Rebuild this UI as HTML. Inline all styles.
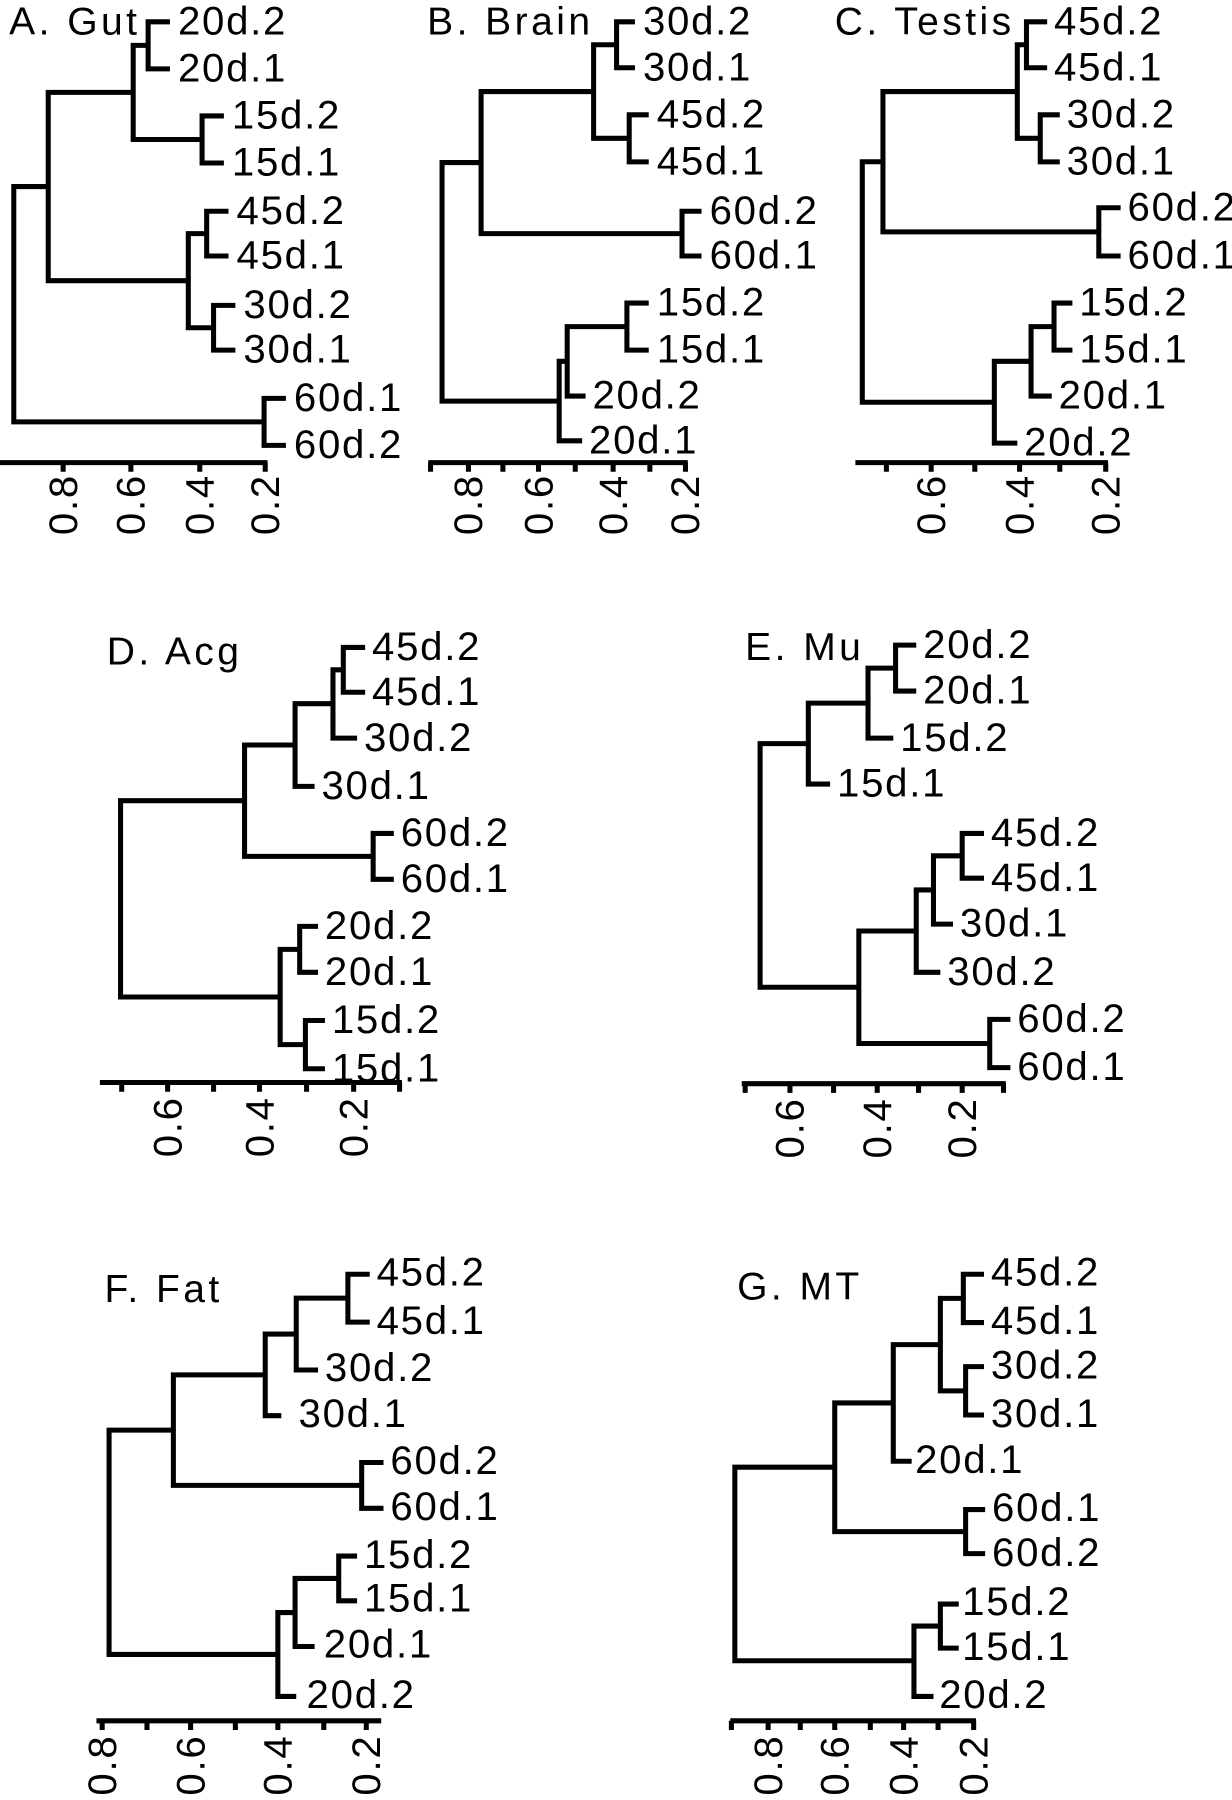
<!DOCTYPE html>
<html><head><meta charset="utf-8"><style>
html,body{margin:0;padding:0;background:#fff;}
svg{display:block;}
text{font-family:"Liberation Sans",sans-serif;font-size:35px;letter-spacing:1.5px;fill:#000;}
.t{letter-spacing:3px;font-size:34px;}
path{fill:none;stroke:#000;stroke-width:4.4;stroke-linecap:butt;stroke-linejoin:miter;}
</style></head><body>
<svg width="1232" height="1800" viewBox="0 0 1073 1568" preserveAspectRatio="none" xmlns="http://www.w3.org/2000/svg">
<!-- A -->
<text class="t" x="8" y="30">A. Gut</text>
<path d="M148 19 H129 V60 H148 M195 101 H176 V142 H195 M129 39.5 H116 V121.5 H176 M199 184 H180 V223 H199 M205 266 H186 V305 H205 M180 203.5 H164 V285.5 H186 M116 80.5 H42 V244.5 H164 M249 347 H230 V388 H249 M42 162.5 H12 V367.5 H230"/>
<text x="155" y="30">20d.2</text><text x="155" y="71">20d.1</text><text x="202" y="112">15d.2</text><text x="202" y="153">15d.1</text>
<text x="206" y="195">45d.2</text><text x="206" y="234">45d.1</text><text x="212" y="277">30d.2</text><text x="212" y="316">30d.1</text>
<text x="256" y="358">60d.1</text><text x="256" y="399">60d.2</text>
<path d="M0 403 H233 M55 403 V411 M114 403 V411 M174 403 V411 M231 403 V411"/>
<text text-anchor="end" transform="translate(67,413) rotate(-90)">0.8</text>
<text text-anchor="end" transform="translate(126,413) rotate(-90)">0.6</text>
<text text-anchor="end" transform="translate(186,413) rotate(-90)">0.4</text>
<text text-anchor="end" transform="translate(243,413) rotate(-90)">0.2</text>
<!-- B -->
<text class="t" x="372" y="30">B. Brain</text>
<path d="M553 19 H537 V59 H553 M565 100 H548 V141 H565 M537 39 H517 V120.5 H548 M611 184 H594 V223 H611 M517 79.75 H419 V203.5 H594 M565 264 H546 V305 H565 M546 284.5 H494 V345 H510 M494 314.75 H487 V384 H507 M419 141.6 H385 V349.4 H487"/>
<text x="560" y="30">30d.2</text><text x="560" y="70">30d.1</text><text x="572" y="111">45d.2</text><text x="572" y="152">45d.1</text>
<text x="618" y="195">60d.2</text><text x="618" y="234">60d.1</text><text x="572" y="275">15d.2</text><text x="572" y="316">15d.1</text>
<text x="516" y="356">20d.2</text><text x="513" y="395">20d.1</text>
<path d="M373 403 H599 M375 403 V411 M408 403 V411 M438 403 V411 M469 403 V411 M501 403 V411 M534 403 V411 M566 403 V411 M597 403 V411"/>
<text text-anchor="end" transform="translate(420,413) rotate(-90)">0.8</text>
<text text-anchor="end" transform="translate(481,413) rotate(-90)">0.6</text>
<text text-anchor="end" transform="translate(546,413) rotate(-90)">0.4</text>
<text text-anchor="end" transform="translate(609,413) rotate(-90)">0.2</text>
<!-- C -->
<text class="t" x="727" y="30">C. Testis</text>
<path d="M912 19 H894 V59 H912 M923 100 H906 V141 H923 M894 39 H886 V120.5 H906 M976 181 H957 V223 H976 M886 79.75 H769 V202 H957 M934 264 H918 V305 H934 M918 284.5 H898 V345 H916 M898 314.75 H866 V386 H886 M769 140.9 H751 V350.4 H866"/>
<text x="918" y="30">45d.2</text><text x="918" y="70">45d.1</text><text x="929" y="111">30d.2</text><text x="929" y="152">30d.1</text>
<text x="982" y="192">60d.2</text><text x="982" y="234">60d.1</text><text x="940" y="275">15d.2</text><text x="940" y="316">15d.1</text>
<text x="922" y="356">20d.1</text><text x="892" y="397">20d.2</text>
<path d="M745 403 H965 M772 403 V411 M811 403 V411 M849 403 V411 M888 403 V411 M923 403 V411 M963 403 V411"/>
<text text-anchor="end" transform="translate(823,413) rotate(-90)">0.6</text>
<text text-anchor="end" transform="translate(900,413) rotate(-90)">0.4</text>
<text text-anchor="end" transform="translate(975,413) rotate(-90)">0.2</text>
<!-- D -->
<text class="t" x="93" y="579">D. Acg</text>
<path d="M318 564 H299 V603 H318 M299 583.5 H290 V643 H311 M290 613 H257 V685 H274 M343 726 H325 V766 H343 M257 649 H213 V746 H325 M277 807 H261 V847 H277 M283 889 H266 V931 H283 M261 827 H244 V910 H266 M213 697.5 H105 V868.5 H244"/>
<text x="324" y="575">45d.2</text><text x="324" y="614">45d.1</text><text x="317" y="654">30d.2</text><text x="280" y="696">30d.1</text>
<text x="349" y="737">60d.2</text><text x="349" y="777">60d.1</text><text x="283" y="818">20d.2</text><text x="283" y="858">20d.1</text>
<text x="289" y="900">15d.2</text><text x="289" y="942">15d.1</text>
<path d="M87 943 H350 M106 943 V951 M146 943 V951 M186 943 V951 M226 943 V951 M267 943 V951 M308 943 V951 M348 943 V951"/>
<text text-anchor="end" transform="translate(158,955) rotate(-90)">0.6</text>
<text text-anchor="end" transform="translate(238,955) rotate(-90)">0.4</text>
<text text-anchor="end" transform="translate(320,955) rotate(-90)">0.2</text>
<!-- E -->
<text class="t" x="649" y="575">E. Mu</text>
<path d="M798 562 H780 V602 H798 M780 582 H756 V643 H778 M756 612.5 H704 V683 H723 M857 726 H838 V765 H857 M838 745.5 H813 V805 H830 M813 775.25 H798 V847 H819 M880 888 H862 V930 H880 M798 811 H748 V909 H862 M704 647.75 H662 V860 H748"/>
<text x="804" y="573">20d.2</text><text x="804" y="613">20d.1</text><text x="784" y="654">15d.2</text><text x="729" y="694">15d.1</text>
<text x="863" y="737">45d.2</text><text x="863" y="776">45d.1</text><text x="836" y="816">30d.1</text><text x="825" y="858">30d.2</text>
<text x="886" y="899">60d.2</text><text x="886" y="941">60d.1</text>
<path d="M646 944 H876 M649 944 V952 M688 944 V952 M726 944 V952 M764 944 V952 M800 944 V952 M838 944 V952 M874 944 V952"/>
<text text-anchor="end" transform="translate(700,956) rotate(-90)">0.6</text>
<text text-anchor="end" transform="translate(776,956) rotate(-90)">0.4</text>
<text text-anchor="end" transform="translate(850,956) rotate(-90)">0.2</text>
<!-- F -->
<text class="t" x="91" y="1134">F. Fat</text>
<path d="M322 1110 H303 V1151.7 H322 M303 1130.8 H258 V1193.4 H277 M258 1162.1 H231 V1233.2 H245 M334 1274 H315 V1313.9 H334 M231 1197.7 H151 V1293.9 H315 M311 1355.5 H295 V1394.5 H311 M295 1375 H257 V1434.3 H274 M257 1404.7 H242 V1477.8 H258 M151 1245.8 H95 V1441.2 H242"/>
<text x="328" y="1120">45d.2</text><text x="328" y="1162">45d.1</text><text x="283" y="1203">30d.2</text><text x="260" y="1243">30d.1</text>
<text x="340" y="1284">60d.2</text><text x="340" y="1324">60d.1</text><text x="317" y="1366">15d.2</text><text x="317" y="1404">15d.1</text>
<text x="282" y="1444">20d.1</text><text x="267" y="1488">20d.2</text>
<path d="M84 1499 H332 M89 1499 V1507 M128 1499 V1507 M166 1499 V1507 M205 1499 V1507 M242 1499 V1507 M282 1499 V1507 M319 1499 V1507"/>
<text text-anchor="end" transform="translate(101,1511) rotate(-90)">0.8</text>
<text text-anchor="end" transform="translate(178,1511) rotate(-90)">0.6</text>
<text text-anchor="end" transform="translate(254,1511) rotate(-90)">0.4</text>
<text text-anchor="end" transform="translate(331,1511) rotate(-90)">0.2</text>
<!-- G -->
<text class="t" x="642" y="1132">G. MT</text>
<path d="M857 1110 H839 V1152.1 H857 M857 1190.5 H841 V1232.6 H857 M839 1131 H819 V1211.6 H841 M819 1171.3 H778 V1272.9 H794 M858 1315 H841 V1353.4 H858 M778 1222.1 H727 V1334.2 H841 M835 1397.3 H819 V1435.7 H835 M819 1416.5 H796 V1477.8 H813 M727 1278.1 H640 V1446.7 H796"/>
<text x="863" y="1120">45d.2</text><text x="863" y="1162">45d.1</text><text x="863" y="1201">30d.2</text><text x="863" y="1243">30d.1</text>
<text x="797" y="1283">20d.1</text><text x="864" y="1325">60d.1</text><text x="864" y="1364">60d.2</text>
<text x="838" y="1407">15d.2</text><text x="838" y="1446">15d.1</text><text x="818" y="1488">20d.2</text>
<path d="M636 1499 H850 M637 1499 V1507 M669 1499 V1507 M697 1499 V1507 M727 1499 V1507 M758 1499 V1507 M787 1499 V1507 M817 1499 V1507 M848 1499 V1507"/>
<text text-anchor="end" transform="translate(681,1511) rotate(-90)">0.8</text>
<text text-anchor="end" transform="translate(739,1511) rotate(-90)">0.6</text>
<text text-anchor="end" transform="translate(799,1511) rotate(-90)">0.4</text>
<text text-anchor="end" transform="translate(860,1511) rotate(-90)">0.2</text>
</svg>
</body></html>
